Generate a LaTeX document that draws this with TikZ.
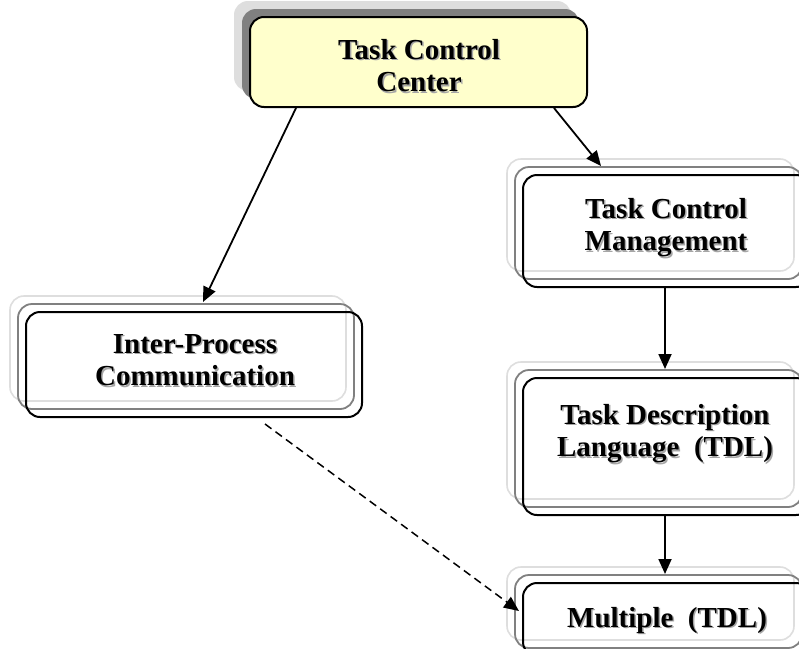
\documentclass[tikz,border=0pt]{standalone}
\usepackage{fontspec}
\setmainfont{Liberation Serif}
\usetikzlibrary{arrows.meta,calc}
\definecolor{paleyel}{RGB}{255,255,204}
\definecolor{midg}{RGB}{128,128,128}
\definecolor{lightg}{RGB}{222,222,222}
\newcommand{\shd}[1]{\makebox[0pt][l]{\kern1.5pt\raisebox{-1.5pt}{\textcolor{black!35}{#1}}}#1}
\newcommand{\txtlines}[1]{\begin{tabular}[t]{@{}c@{}}#1\end{tabular}}
\begin{document}
\begin{tikzpicture}[x=1pt,y=-1pt,
  boxbase/.style={rectangle, draw=black, line width=2pt, rounded corners=14pt, inner sep=0pt},
  stackbox/.style={boxbase,
    preaction={draw=lightg, line width=1.6pt, transform canvas={shift={(-16pt,16pt)}}},
    preaction={draw=midg, line width=1.8pt, transform canvas={shift={(-8pt,8pt)}}}},
  topbox/.style={boxbase, fill=paleyel,
    preaction={fill=lightg, transform canvas={shift={(-16pt,16pt)}}},
    preaction={fill=midg, transform canvas={shift={(-8pt,8pt)}}}},
  txt/.style={anchor=base, inner sep=0pt, font=\fontsize{29}{32.5}\selectfont\bfseries},
  arr/.style={line width=1.8pt, -{Triangle[length=15pt,width=13pt]}},
  dasharr/.style={line width=1.5pt, dash pattern=on 8pt off 5pt, -{Triangle[length=15pt,width=13pt]}}
]
\useasboundingbox (0,0) rectangle (799,648);
\fill[white] (0,0) rectangle (799,648);
\clip (0,0) rectangle (799,648);

% boxes
\node[topbox, minimum width=337pt, minimum height=90pt] (tcc) at (418.5,62) {};
\node[stackbox, minimum width=287pt, minimum height=112pt] (tcm) at (666.5,231) {};
\node[stackbox, minimum width=336pt, minimum height=105pt] (ipc) at (194,364.5) {};
\node[stackbox, minimum width=287pt, minimum height=137pt] (tdl) at (666.5,446.5) {};
\node[stackbox, minimum width=287pt, minimum height=73pt] (mult) at (666.5,619.5) {};

% texts
\node[txt] (tccT) at (419,59) {\txtlines{\shd{Task Control}\\\shd{Center}}};
\node[txt] (tcmT) at (666,218) {\txtlines{\shd{Task Control}\\\shd{Management}}};
\node[txt] (ipcT) at (195,353) {\txtlines{\shd{Inter-Process}\\\shd{Communication}}};
\node[txt] (tdlT) at (665,424) {\txtlines{\shd{Task Description}\\\shd{Language\ \ (TDL)}}};
\node[txt] (multT) at (667,627) {\shd{Multiple\ \ (TDL)}};

% connectors
\draw[arr] ($(tcc.south west)+(47,0)$) -- ($(ipc.north)+(9,-9)$);
\draw[arr] ($(tcc.south east)+(-34,0)$) -- ($(tcm.north west)+(79,-8)$);
\draw[arr] ($(tcm.south)+(-1.5,0)$) -- ($(tdl.north)+(-1.5,-8)$);
\draw[arr] ($(tdl.south)+(-1.5,0)$) -- ($(mult.north)+(-1.5,-8)$);
\draw[dasharr] ($(ipc.south)+(71,6)$) -- ($(mult.west)+(-3,-8.5)$);
\end{tikzpicture}
\end{document}
